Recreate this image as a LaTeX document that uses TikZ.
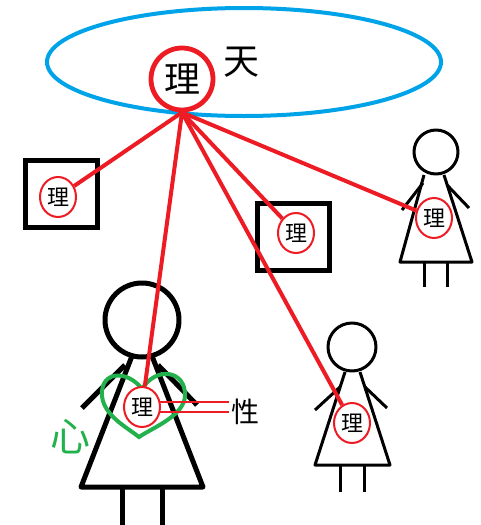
\documentclass[tikz,border=0pt]{standalone}
\usepackage{fontspec}
\setmainfont{Noto Sans CJK SC}
\usetikzlibrary{shapes.geometric}
\definecolor{paintred}{RGB}{237, 28, 36}
\definecolor{paintblue}{RGB}{0, 162, 232}
\definecolor{paintgreen}{RGB}{34, 177, 76}

\begin{document}
\begin{tikzpicture}[x=0.5pt, y=-0.5pt,
    sky/.style={
        ellipse, draw=paintblue, line width=2pt,
        minimum width=197pt, minimum height=54pt, inner sep=0pt
    },
    bigli/.style={
        circle, draw=paintred, line width=2.4pt, fill=white,
        minimum size=31pt, inner sep=0pt,
        font=\fontsize{18pt}{20pt}\selectfont
    },
    li/.style={
        ellipse, draw=paintred, line width=1pt, fill=white,
        minimum width=18pt, minimum height=20pt, inner sep=0pt,
        font=\fontsize{11pt}{12pt}\selectfont
    },
    thing/.style={
        draw=black, line width=2.2pt,
        minimum width=36pt, minimum height=33.5pt, inner sep=0pt
    },
    thread/.style={paintred, line width=2pt},
    body/.style={black, line width=1.5pt, line join=round},
    bigbody/.style={black, line width=2.5pt, line join=round},
    heartline/.style={paintgreen, line width=2pt},
    tlab/.style={inner sep=1pt, font=\fontsize{14pt}{16pt}\selectfont},
]
    \useasboundingbox (0,0) rectangle (481,525);

    % heaven and its principle
    \node[sky] (heaven) at (244,62) {};
    \node[tlab, font=\fontsize{18pt}{20pt}\selectfont] (tian) at (241,62) {天};
    \node[bigli] (T) at (182,79) {理};

    % two things in boxes
    \node[thing] (boxL) at (61.5,194) {};
    \node[li] (rL) at (58,197) {理};
    \node[thing] (boxM) at (293.5,237) {};
    \node[li] (rM) at (296,233) {理};

    % right figure
    \draw[body] (436,152) circle (22);
    \draw[body] (424,175) -- (400,262) -- (472,262) -- (444,175);
    \draw[body] (423,183) -- (402,210);
    \draw[body] (447,185) -- (469,208);
    \draw[body] (424,262) -- (424,287);
    \draw[body] (447,262) -- (447,287);
    \node[li] (rR) at (434,218) {理};

    % lower figure
    \draw[body] (352,347) circle (24);
    \draw[body] (345,372) -- (315,465) -- (390,465) -- (360,372);
    \draw[body] (340,387) -- (315,410);
    \draw[body] (365,387) -- (387,408);
    \draw[body] (340,465) -- (340,492);
    \draw[body] (364,465) -- (364,492);
    \node[li] (rB) at (352,423) {理};

    % big figure with the heart
    \draw[bigbody] (142,320) circle (37);
    \draw[bigbody] (132,356) -- (81,487) -- (203,487) -- (152,356);
    \draw[bigbody] (125,365) -- (82,408);
    \draw[bigbody] (158,365) -- (197,405);
    \draw[bigbody] (122,487) -- (122,525);
    \draw[bigbody] (162,487) -- (162,525);
    \draw[heartline] (142,389) .. controls (128,370) and (100,370) .. (102,396)
        .. controls (104,416) and (128,428) .. (139,437)
        .. controls (152,428) and (184,416) .. (185,396)
        .. controls (186,370) and (156,366) .. (142,389) -- cycle;
    \node[li] (rH) at (142,407) {理};
    \node[tlab, text=paintgreen, font=\fontsize{20pt}{22pt}\selectfont] (xin) at (70,437) {心};
    \node[tlab] (xing) at (245,412) {性};

    \draw[paintred, line width=1.3pt] (rH.15) -- (xing.west |- rH.15);
    \draw[paintred, line width=1.3pt] (rH.-15) -- (xing.west |- rH.-15);

    % threads from heaven
    \draw[thread] (T.south) -- (rL);
    \draw[thread] (T.south) -- (rH);
    \draw[thread] (T.south) -- (rM);
    \draw[thread] (T.south) -- (rB);
    \draw[thread] (T.south) -- (rR);
\end{tikzpicture}
\end{document}
